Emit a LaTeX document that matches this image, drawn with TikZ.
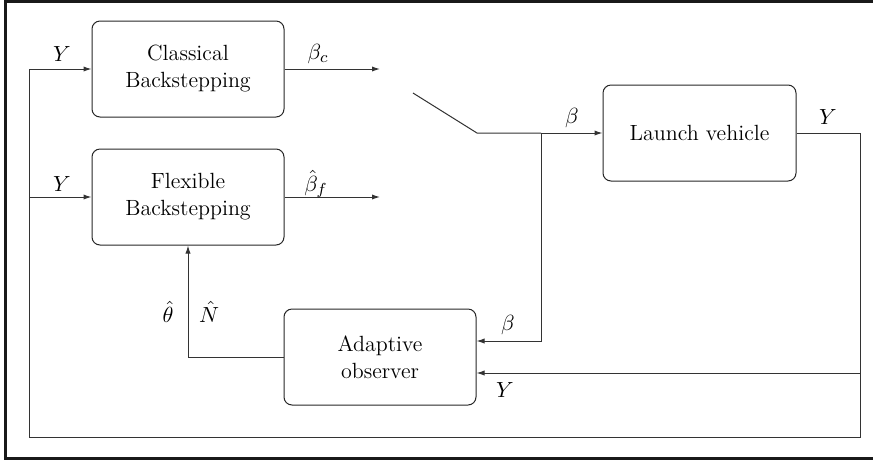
\documentclass[tikz,border=0pt]{standalone}
\usetikzlibrary{arrows.meta,calc}
\tikzset{
  blk/.style={draw=black!85, line width=0.5pt, rounded corners=4pt, minimum width=96pt, minimum height=48pt, align=center, inner sep=0pt, font=\fontsize{11}{13.5}\selectfont},
  wire/.style={draw=black!80, line width=0.5pt},
  arr/.style={wire, -{Latex[length=4pt,width=2.6pt]}},
  lbl/.style={inner sep=0pt, font=\fontsize{11}{13}\selectfont},
  frame/.style={draw=black!90, line width=1.5pt}
}
\begin{document}
\begin{tikzpicture}[x=0.5pt,y=-0.5pt]
\useasboundingbox (0,0) rectangle (873,462);
% outer frame
\draw[frame] (880,1) -- (5.5,1) -- (5.5,458.5) -- (880,458.5);
% blocks
\node[blk] (cb) at (188,69) {Classical\\Backstepping};
\node[blk] (fb) at (188,197) {Flexible\\Backstepping};
\node[blk, minimum width=96.5pt] (lv) at (699.5,133) {Launch vehicle};
\node[blk] (ao) at (380,357) {Adaptive\\observer};
% coordinates
\coordinate (cbo) at (380,69);
\coordinate (fbo) at (380,197);
\coordinate (sw1) at (413,93);
\coordinate (sw2) at (477,133);
\coordinate (jb) at (541,133);
\coordinate (jb2) at (541,341);
\coordinate (yo) at (860,133);
\coordinate (yd) at (860,373);
\coordinate (ybr) at (860,437);
\coordinate (ybl) at (29,437);
\coordinate (ytl) at (29,69);
\coordinate (yml) at (29,197);
\coordinate (aol) at (188,357);
% connectors
\draw[arr] (cb.east) -- (cbo);
\draw[arr] (fb.east) -- (fbo);
\draw[wire] (sw1) -- (sw2) -- (jb);
\draw[arr] (jb) -- (lv.west);
\draw[arr] (jb) -- (jb2) -- (ao.east |- jb2);
\draw[wire] (lv.east) -- (yo) -- (ybr) -- (ybl) -- (ytl);
\draw[arr] (ytl) -- (cb.west);
\draw[arr] (yml) -- (fb.west);
\draw[arr] (yd) -- (ao.east |- yd);
\draw[arr] (ao.west) -- (aol) -- (fb.south);
% labels
\node[lbl] (l1) at (62,54) {$Y$};
\node[lbl] (l2) at (62,184) {$Y$};
\node[lbl] (l3) at (318,54) {$\beta_c$};
\node[lbl] (l4) at (316,184) {$\hat{\beta}_f$};
\node[lbl] (l5) at (572,118) {$\beta$};
\node[lbl] (l6) at (828,117) {$Y$};
\node[lbl] (l7) at (508,325) {$\beta$};
\node[lbl] (l8) at (505,390) {$Y$};
\node[lbl] (l9) at (168,312) {$\hat{\theta}$};
\node[lbl] (l10) at (209,312) {$\hat{N}$};
\end{tikzpicture}
\end{document}
